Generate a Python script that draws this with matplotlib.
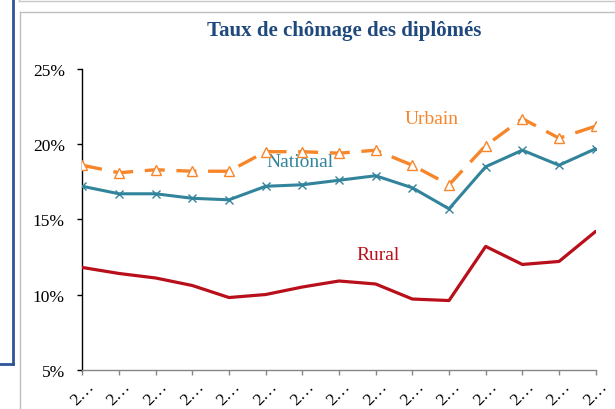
import matplotlib
matplotlib.use("Agg")
import matplotlib.pyplot as plt
from matplotlib.lines import Line2D

years = ["2…"] * 15
national = [17.2, 16.7, 16.7, 16.4, 16.3, 17.2, 17.3, 17.6, 17.9, 17.1, 15.7, 18.5, 19.6, 18.6, 19.7]
urbain = [18.6, 18.1, 18.3, 18.2, 18.2, 19.5, 19.5, 19.4, 19.6, 18.6, 17.3, 19.9, 21.7, 20.4, 21.2]
rural = [11.8, 11.4, 11.1, 10.6, 9.8, 10.0, 10.5, 10.9, 10.7, 9.7, 9.6, 13.2, 12.0, 12.2, 14.2]
yticks = [5, 10, 15, 20, 25]
title = "Taux de chômage des diplômés"

plt.rcParams['font.family'] = ['Liberation Serif', 'DejaVu Serif']

W, H = 615, 410
fig = plt.figure(figsize=(6.15, 4.1), dpi=100)
ax = fig.add_axes([82.3 / W, 1 - 370.7 / H, (595.7 - 82.3) / W, (370.7 - 70) / H])

x = list(range(len(rural)))
c_nat = "#31849B"
c_urb = "#F7862A"
c_rur = "#B80F1A"

ax.plot(x, rural, color=c_rur, lw=2.3, solid_capstyle='round', zorder=3)
ax.plot(x, national, color=c_nat, lw=2.2, marker='x', ms=6, mew=1.0, zorder=4)
ax.plot(x, urbain, color=c_urb, lw=2.4, dashes=(6, 3.5), marker='^', ms=7,
        mfc='white', mec=c_urb, mew=1.0, zorder=5)

ax.set_xlim(0, len(rural) - 1)
ax.set_ylim(5, 25)
ax.set_yticks(yticks)
ax.set_yticklabels([f"{v}%" for v in yticks], fontsize=12.5)
ax.set_xticks(x)
ax.set_xticklabels(years, fontsize=12.5, rotation=45, ha='center', va='top')

for s in ['top', 'right']:
    ax.spines[s].set_visible(False)
ax.spines['left'].set_color('black')
ax.spines['left'].set_linewidth(1.0)
ax.spines['bottom'].set_color('#868686')
ax.spines['bottom'].set_linewidth(1.0)
ax.tick_params(axis='y', direction='out', length=3.6, width=1, color='black', pad=9)
ax.tick_params(axis='x', direction='out', length=3.6, width=1, color='#868686', pad=2)

fig.text(344 / W, 1 - 31 / H, title, ha='center', va='center', fontsize=15,
         fontweight='bold', color='#1F497D')

ax.annotate("Urbain", xy=(432 / W, 1 - 120 / H), xycoords='figure fraction',
            ha='center', va='center', fontsize=14, color=c_urb)
ax.annotate("National", xy=(300 / W, 1 - 163 / H), xycoords='figure fraction',
            ha='center', va='center', fontsize=14, color=c_nat)
ax.annotate("Rural", xy=(378 / W, 1 - 256 / H), xycoords='figure fraction',
            ha='center', va='center', fontsize=14, color=c_rur)

def fl(x0, y0, x1, y1, color, lw):
    fig.add_artist(Line2D([x0 / W, x1 / W], [1 - y0 / H, 1 - y1 / H],
                          transform=fig.transFigure, color=color, lw=lw))

# decorative frames
fl(12.5, 0, 12.5, 365, '#2F5597', 2.0)
fl(0, 365, 12.5, 365, '#2F5597', 2.0)
fl(18.5, 1.5, 615, 1.5, '#C8C8C8', 1.0)
fl(18.5, 0, 18.5, 2, '#C8C8C8', 1.0)
fl(19.5, 13, 19.5, 410, '#BFBFBF', 1.0)
fl(19.5, 13, 615, 13, '#BFBFBF', 1.0)

fig.savefig("out.png", dpi=100)
